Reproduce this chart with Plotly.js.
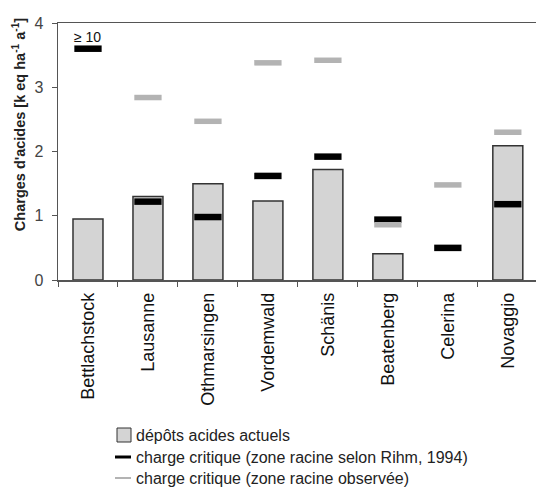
<!DOCTYPE html>
<html><head><meta charset="utf-8">
<script src="https://cdn.plot.ly/plotly-3.0.1.min.js"></script>
<style>body{margin:0;padding:0;background:#fff}#chart{width:536px;height:497px}</style>
</head><body><div id="chart"></div>
<script>
var sites = ["Bettlachstock","Lausanne","Othmarsingen","Vordemwald","Schänis","Beatenberg","Celerina","Novaggio"];
var depots = [0.95, 1.30, 1.50, 1.23, 1.72, 0.41, null, 2.09];
var rihm = [3.6, 1.22, 0.98, 1.62, 1.92, 0.94, 0.50, 1.18];   // Bettlachstock: > 10, drawn off-scale
var observee = [null, 2.84, 2.47, 3.38, 3.42, 0.86, 1.48, 2.30];
var yTicks = [0, 1, 2, 3, 4];
var names = ["dépôts acides actuels", "charge critique (zone racine selon Rihm, 1994)", "charge critique (zone racine observée)"];

var W = 536, H = 497, ML = 58, MR = 0, MT = 23, MB = 217;
var PW = W - ML - MR, PH = H - MT - MB;
function px(x) { return (x - ML) / PW; }
function py(y) { return (H - MB - y) / PH; }

var font = "Arial, 'Liberation Sans', sans-serif";
var traces = [
  {type:"bar", x:sites, y:depots, name:names[0], width:0.5,
   marker:{color:"#d4d4d4", line:{color:"#333", width:1.5}}},
  {type:"scatter", mode:"markers", x:sites, y:rihm, name:names[1],
   marker:{symbol:"line-ew", size:19.5, color:"#000", line:{color:"#000", width:6.5}}},
  {type:"scatter", mode:"markers", x:sites, y:observee, name:names[2],
   marker:{symbol:"line-ew", size:19.5, color:"#b3b3b3", line:{color:"#b3b3b3", width:5.5}}}
];

// hand-placed legend (symbols + labels)
var rowY = [435, 457, 478];
var shapes = [
  {type:"rect", xref:"paper", yref:"paper", x0:px(117), x1:px(131), y0:py(rowY[0]-7), y1:py(rowY[0]+7),
   fillcolor:"#d4d4d4", line:{color:"#333", width:1}},
  {type:"line", xref:"paper", yref:"paper", x0:px(115), x1:px(131), y0:py(rowY[1]), y1:py(rowY[1]),
   line:{color:"#000", width:3}},
  {type:"line", xref:"paper", yref:"paper", x0:px(115), x1:px(131), y0:py(rowY[2]), y1:py(rowY[2]),
   line:{color:"#b3b3b3", width:2}}
];
var annotations = [
  {x:sites[0], y:rihm[0], xref:"x", yref:"y", text:"≥ 10", showarrow:false,
   xanchor:"center", yanchor:"bottom", yshift:2, font:{size:14, color:"#111"}},
  {x:px(19), y:2.41, xref:"paper", yref:"y", textangle:-90, showarrow:false,
   xanchor:"center", yanchor:"middle",
   text:"<b>Charges d'acides [k eq ha<sup>-1</sup> a<sup>-1</sup>]</b>", font:{size:14.5, color:"#222"}}
];
for (var i = 0; i < names.length; i++) {
  annotations.push({x:px(134), y:py(rowY[i]), xref:"paper", yref:"paper", text:names[i], showarrow:false,
    xanchor:"left", yanchor:"middle", font:{size:16, color:"#222"}});
}

var layout = {
  width:W, height:H,
  margin:{l:ML, r:MR, t:MT, b:MB, pad:0, autoexpand:false},
  paper_bgcolor:"#fff", plot_bgcolor:"#fff",
  font:{family:font, size:13, color:"#222"},
  showlegend:false,
  xaxis:{range:[-0.5, 7.47], tickangle:-90, ticks:"outside", ticklen:5, tickcolor:"#555",
         tickson:"boundaries", showline:true, linecolor:"#555", linewidth:1.5, mirror:true,
         showgrid:false, zeroline:false, ticklabelstandoff:4, tickfont:{size:18, color:"#111"}},
  yaxis:{range:[0,4], tickvals:yTicks, ticks:"outside", ticklen:5, tickcolor:"#555",
         showline:true, linecolor:"#555", linewidth:1.5, showgrid:false, zeroline:false,
         ticklabelstandoff:5, tickfont:{size:16, color:"#444"}},
  shapes:shapes,
  annotations:annotations
};
Plotly.newPlot("chart", traces, layout, {displayModeBar:false, staticPlot:true});
</script></body></html>
